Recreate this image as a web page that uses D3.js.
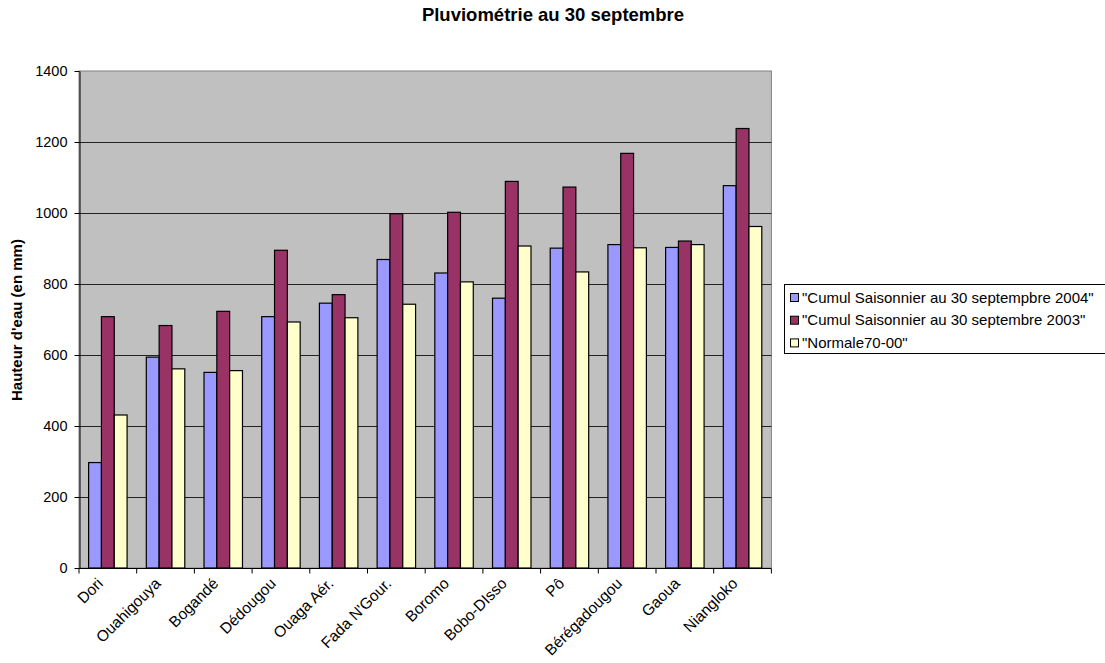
<!DOCTYPE html>
<html>
<head>
<meta charset="utf-8">
<script src="https://cdn.jsdelivr.net/npm/d3@7"></script>
<style>
  body { margin: 0; background: #fff; }
  svg { display: block; font-family: "Liberation Sans", Arial, sans-serif; }
</style>
</head>
<body>
<svg id="chart" width="1105" height="663"></svg>
<script>
const categories = ["Dori", "Ouahigouya", "Bogandé", "Dédougou", "Ouaga Aér.", "Fada N'Gour.", "Boromo", "Bobo-DIsso", "Pô", "Bérégadougou", "Gaoua", "Niangloko"];
const seriesNames = ["\"Cumul Saisonnier au 30 septempbre 2004\"", "\"Cumul Saisonnier au 30 septembre 2003\"", "\"Normale70-00\""];
const cumul2004 = [297, 594, 551, 708, 746, 869, 831, 760, 901, 911, 903, 1077];
const cumul2003 = [708, 683, 723, 895, 770, 998, 1002, 1089, 1073, 1168, 921, 1238];
const normale = [431, 561, 556, 693, 705, 743, 806, 907, 834, 902, 911, 962];
const yTicks = [0, 200, 400, 600, 800, 1000, 1200, 1400];
const colors = ["#9999FF", "#993366", "#FFFFCC"];

const svg = d3.select("#chart");
const pLeft = 79, pRight = 771.4, pTop = 71, pBottom = 568;

const x0 = d3.scaleBand().domain(categories).range([pLeft, pRight]).paddingInner(0).paddingOuter(0);
const x1 = d3.scaleBand().domain([0, 1, 2]).range([0, x0.bandwidth()]).paddingInner(0).paddingOuter(0.75);
const y = d3.scaleLinear().domain([0, 1400]).range([pBottom, pTop]);

// plot background
svg.append("rect").attr("x", pLeft).attr("y", pTop).attr("width", pRight - pLeft).attr("height", pBottom - pTop)
  .attr("fill", "#C0C0C0").attr("stroke", "#808080").attr("stroke-width", 1);

// gridlines
svg.append("g").selectAll("line").data(yTicks.filter(d => d > 0 && d < 1400)).join("line")
  .attr("x1", pLeft).attr("x2", pRight)
  .attr("y1", d => Math.round(y(d)) + 0.5).attr("y2", d => Math.round(y(d)) + 0.5)
  .attr("stroke", "#222").attr("stroke-width", 1);

// bars
const data = [cumul2004, cumul2003, normale];
const g = svg.append("g");
data.forEach((vals, si) => {
  g.selectAll(null).data(vals).join("rect")
    .attr("x", (d, i) => x0(categories[i]) + x1(si))
    .attr("y", d => y(d))
    .attr("width", x1.bandwidth())
    .attr("height", d => pBottom - y(d))
    .attr("fill", colors[si])
    .attr("stroke", "#000").attr("stroke-width", 1.2);
});

// y axis
const yAxis = d3.axisLeft(y).tickValues(yTicks).tickFormat(d3.format("d")).tickSize(5).tickPadding(7).tickSizeOuter(0);
const ya = svg.append("g").attr("transform", `translate(${pLeft + 0.5},0)`).call(yAxis);
ya.select(".domain").attr("stroke", "#000");
ya.selectAll("text").attr("font-size", 14.5).attr("fill", "#000").attr("font-family", "Liberation Sans, Arial, sans-serif");

// x axis
const xa = svg.append("g").attr("transform", `translate(0,${pBottom + 0.5})`);
xa.append("line").attr("x1", pLeft).attr("x2", pRight).attr("stroke", "#000");
const boundaries = categories.map(c => x0(c)).concat([pRight]);
xa.selectAll("line.tk").data(boundaries).join("line").attr("class", "tk")
  .attr("x1", d => d).attr("x2", d => d).attr("y1", 0).attr("y2", 5).attr("stroke", "#000");
xa.selectAll("text").data(categories).join("text")
  .attr("transform", d => `translate(${x0(d) + x0.bandwidth() / 2 - 4},${16}) rotate(-45)`)
  .attr("text-anchor", "end")
  .attr("font-size", 15.5).attr("fill", "#000")
  .text(d => d);

// title
svg.append("text").attr("x", 553).attr("y", 21).attr("text-anchor", "middle")
  .attr("font-size", 18.5).attr("font-weight", "bold").text("Pluviométrie au 30 septembre");

// y label
svg.append("text").attr("transform", "translate(22,320) rotate(-90)").attr("text-anchor", "middle")
  .attr("font-size", 15).attr("font-weight", "bold").text("Hauteur d'eau (en mm)");

// legend
const lg = svg.append("g");
lg.append("rect").attr("x", 784.5).attr("y", 284.5).attr("width", 330).attr("height", 69)
  .attr("fill", "#fff").attr("stroke", "#000").attr("stroke-width", 1);
seriesNames.forEach((name, i) => {
  const cy = 297.5 + i * 22.7;
  lg.append("rect").attr("x", 790.5).attr("y", cy - 4).attr("width", 8).attr("height", 8)
    .attr("fill", colors[i]).attr("stroke", "#000").attr("stroke-width", 1);
  lg.append("text").attr("x", 802).attr("y", cy + 5).attr("font-size", 15).text(name);
});
</script>
</body>
</html>
